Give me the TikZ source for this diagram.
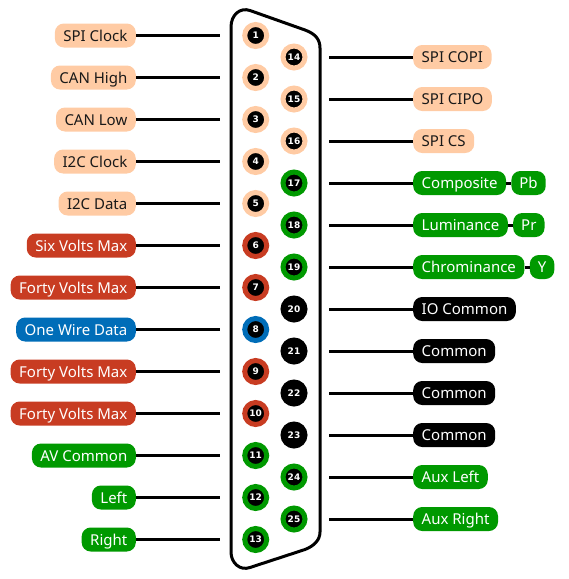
\documentclass[tikz,border=0pt]{standalone}
\usepackage{fontspec}
\setmainfont{Noto Sans}
\newfontfamily\pinfont{DejaVu Sans}
\usetikzlibrary{positioning}
\definecolor{cnPeach}{RGB}{255,203,164}
\definecolor{cnGreen}{RGB}{0,153,0}
\definecolor{cnRed}{RGB}{200,60,34}
\definecolor{cnBlue}{RGB}{0,109,184}
\definecolor{cnText}{RGB}{25,25,25}
\tikzset{
  pinbase/.style={circle, fill=black, line width=5pt, minimum size=22pt, inner sep=0pt, text=white, font=\fontsize{9}{9}\pinfont\bfseries},
  pinPeach/.style={pinbase, draw=cnPeach},
  pinGreen/.style={pinbase, draw=cnGreen},
  pinRed/.style={pinbase, draw=cnRed},
  pinBlue/.style={pinbase, draw=cnBlue},
  pinBlack/.style={pinbase, draw=black},
  pill/.style={rounded corners=9pt, minimum height=24pt, inner xsep=8.5pt, inner ysep=0pt, text height=13pt, text depth=2pt, font=\fontsize{15}{16}\selectfont},
  pillPeach/.style={pill, fill=cnPeach, text=cnText},
  pillGreen/.style={pill, fill=cnGreen, text=white},
  pillRed/.style={pill, fill=cnRed, text=white},
  pillBlue/.style={pill, fill=cnBlue, text=white},
  pillBlack/.style={pill, fill=black, text=white},
  wire/.style={line width=3pt},
  shell/.style={line width=3pt, line join=round}
}
\begin{document}
\begin{tikzpicture}[x=1pt, y=-1pt]
  \useasboundingbox (0,0) rectangle (569,579);
  % connector shell
  \draw[shell] (231,27) .. controls (231,15) and (240,7) .. (250,10.5) -- (305,30)
    .. controls (316,34) and (320,40) .. (320,48) -- (320,532)
    .. controls (320,540) and (314,546) .. (305,549.5) -- (250,567.5)
    .. controls (240,571) and (231,563) .. (231,552) -- cycle;

  % left row
  \node[pinPeach] (pin1) at (255.7,35.5) {1};
  \node[pinPeach] (pin2) at (255.7,77.5) {2};
  \node[pinPeach] (pin3) at (255.7,119.5) {3};
  \node[pinPeach] (pin4) at (255.7,161.5) {4};
  \node[pinPeach] (pin5) at (255.7,203.5) {5};
  \node[pinRed] (pin6) at (255.7,245.5) {6};
  \node[pinRed] (pin7) at (255.7,287.5) {7};
  \node[pinBlue] (pin8) at (255.7,329.5) {8};
  \node[pinRed] (pin9) at (255.7,371.5) {9};
  \node[pinRed] (pin10) at (255.7,413.5) {10};
  \node[pinGreen] (pin11) at (255.7,455.5) {11};
  \node[pinGreen] (pin12) at (255.7,497.5) {12};
  \node[pinGreen] (pin13) at (255.7,539.5) {13};

  % right row
  \node[pinPeach] (pin14) at (294,57) {14};
  \node[pinPeach] (pin15) at (294,99) {15};
  \node[pinPeach] (pin16) at (294,141) {16};
  \node[pinGreen] (pin17) at (294,183) {17};
  \node[pinGreen] (pin18) at (294,225) {18};
  \node[pinGreen] (pin19) at (294,267) {19};
  \node[pinBlack] (pin20) at (294,309) {20};
  \node[pinBlack] (pin21) at (294,351) {21};
  \node[pinBlack] (pin22) at (294,393) {22};
  \node[pinBlack] (pin23) at (294,435) {23};
  \node[pinGreen] (pin24) at (294,477) {24};
  \node[pinGreen] (pin25) at (294,519) {25};

  % wire ends next to the pins
  \coordinate[left=22.2pt of pin1] (end1);
  \coordinate[left=22.2pt of pin2] (end2);
  \coordinate[left=22.2pt of pin3] (end3);
  \coordinate[left=22.2pt of pin4] (end4);
  \coordinate[left=22.2pt of pin5] (end5);
  \coordinate[left=22.2pt of pin6] (end6);
  \coordinate[left=22.2pt of pin7] (end7);
  \coordinate[left=22.2pt of pin8] (end8);
  \coordinate[left=22.2pt of pin9] (end9);
  \coordinate[left=22.2pt of pin10] (end10);
  \coordinate[left=22.2pt of pin11] (end11);
  \coordinate[left=22.2pt of pin12] (end12);
  \coordinate[left=22.2pt of pin13] (end13);
  \coordinate[right=21.5pt of pin14] (end14);
  \coordinate[right=21.5pt of pin15] (end15);
  \coordinate[right=21.5pt of pin16] (end16);
  \coordinate[right=21.5pt of pin17] (end17);
  \coordinate[right=21.5pt of pin18] (end18);
  \coordinate[right=21.5pt of pin19] (end19);
  \coordinate[right=21.5pt of pin20] (end20);
  \coordinate[right=21.5pt of pin21] (end21);
  \coordinate[right=21.5pt of pin22] (end22);
  \coordinate[right=21.5pt of pin23] (end23);
  \coordinate[right=21.5pt of pin24] (end24);
  \coordinate[right=21.5pt of pin25] (end25);

  % labels
  \node[pillPeach, left=84pt of end1] (spiclock) {SPI Clock};
  \node[pillPeach, left=84pt of end2] (canhigh) {CAN High};
  \node[pillPeach, left=84pt of end3] (canlow) {CAN Low};
  \node[pillPeach, left=84pt of end4] (iicclock) {I2C Clock};
  \node[pillPeach, left=84pt of end5] (iicdata) {I2C Data};
  \node[pillRed, left=84pt of end6] (sixvolts) {Six Volts Max};
  \node[pillRed, left=84pt of end7] (fortyvoltsa) {Forty Volts Max};
  \node[pillBlue, left=84pt of end8] (onewire) {One Wire Data};
  \node[pillRed, left=84pt of end9] (fortyvoltsb) {Forty Volts Max};
  \node[pillRed, left=84pt of end10] (fortyvoltsc) {Forty Volts Max};
  \node[pillGreen, left=84pt of end11] (avcommon) {AV Common};
  \node[pillGreen, left=84pt of end12] (avleft) {Left};
  \node[pillGreen, left=84pt of end13] (avright) {Right};
  \node[pillPeach, right=84pt of end14] (spicopi) {SPI COPI};
  \node[pillPeach, right=84pt of end15] (spicipo) {SPI CIPO};
  \node[pillPeach, right=84pt of end16] (spics) {SPI CS};
  \node[pillGreen, right=84pt of end17] (composite) {Composite};
  \node[pillGreen, right=5pt of composite, inner xsep=8pt] (pb) {Pb};
  \node[pillGreen, right=84pt of end18] (luminance) {Luminance};
  \node[pillGreen, right=5pt of luminance, inner xsep=8pt] (pr) {Pr};
  \node[pillGreen, right=84pt of end19] (chrominance) {Chrominance};
  \node[pillGreen, right=5pt of chrominance, inner xsep=8pt] (yy) {Y};
  \node[pillBlack, right=84pt of end20] (iocommon) {IO Common};
  \node[pillBlack, right=84pt of end21] (commona) {Common};
  \node[pillBlack, right=84pt of end22] (commonb) {Common};
  \node[pillBlack, right=84pt of end23] (commonc) {Common};
  \node[pillGreen, right=84pt of end24] (auxleft) {Aux Left};
  \node[pillGreen, right=84pt of end25] (auxright) {Aux Right};

  % wires
  \draw[wire] (spiclock) -- (end1);
  \draw[wire] (canhigh) -- (end2);
  \draw[wire] (canlow) -- (end3);
  \draw[wire] (iicclock) -- (end4);
  \draw[wire] (iicdata) -- (end5);
  \draw[wire] (sixvolts) -- (end6);
  \draw[wire] (fortyvoltsa) -- (end7);
  \draw[wire] (onewire) -- (end8);
  \draw[wire] (fortyvoltsb) -- (end9);
  \draw[wire] (fortyvoltsc) -- (end10);
  \draw[wire] (avcommon) -- (end11);
  \draw[wire] (avleft) -- (end12);
  \draw[wire] (avright) -- (end13);
  \draw[wire] (end14) -- (spicopi);
  \draw[wire] (end15) -- (spicipo);
  \draw[wire] (end16) -- (spics);
  \draw[wire] (end17) -- (composite);
  \draw[wire] (composite) -- (pb);
  \draw[wire] (end18) -- (luminance);
  \draw[wire] (luminance) -- (pr);
  \draw[wire] (end19) -- (chrominance);
  \draw[wire] (chrominance) -- (yy);
  \draw[wire] (end20) -- (iocommon);
  \draw[wire] (end21) -- (commona);
  \draw[wire] (end22) -- (commonb);
  \draw[wire] (end23) -- (commonc);
  \draw[wire] (end24) -- (auxleft);
  \draw[wire] (end25) -- (auxright);
\end{tikzpicture}
\end{document}
